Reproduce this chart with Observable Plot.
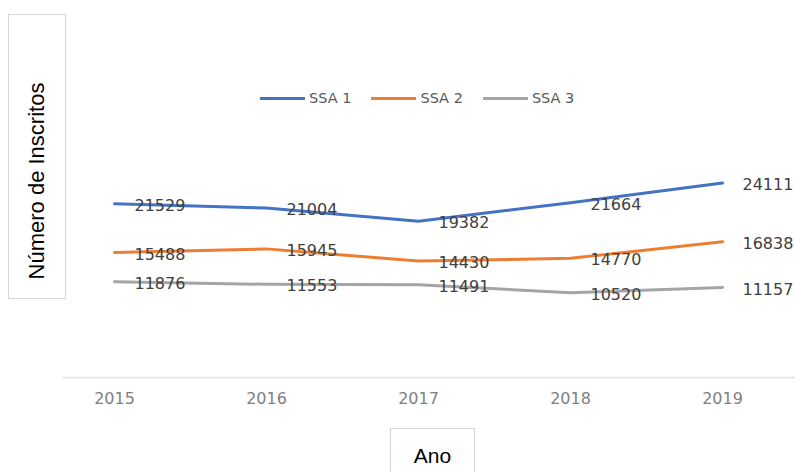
<!DOCTYPE html>
<html>
<head>
<meta charset="utf-8">
<script src="https://cdn.jsdelivr.net/npm/d3@7"></script>
<script src="https://cdn.jsdelivr.net/npm/@observablehq/plot@0.6"></script>
<style>
  html, body { margin: 0; padding: 0; background: #fff; }
  #wrap { position: relative; width: 795px; height: 472px; overflow: hidden; }
  #wrap svg { position: absolute; left: 0; top: 0; }
  .box { position: absolute; border: 1.5px solid #d6d6d6; box-sizing: border-box; background: #fff;
         font-family: "Liberation Sans", Arial, sans-serif; color: #000; font-size: 21px; }
  #ylab { left: 8px; top: 14px; width: 58px; height: 285px; font-size: 22px; }
  #ylab span { position: absolute; left: 50%; top: 166px; white-space: nowrap;
               transform: translate(-50%, -50%) rotate(-90deg); }
  #xlab { left: 390px; top: 428px; width: 85px; height: 60px; }
  #xlab span { position: absolute; left: 50%; top: 27px; transform: translate(-50%, -50%); }
  #legend { position: absolute; left: 260px; top: 89px; height: 18px; display: flex; align-items: center;
            font-family: "DejaVu Sans", sans-serif; font-size: 14.5px; color: #595959; }
  .item { display: flex; align-items: center; margin-right: 20px; }
  .swatch { width: 45px; height: 3px; margin-right: 4px; }
</style>
</head>
<body>
<div id="wrap"></div>
<script>
const years = ["2015", "2016", "2017", "2018", "2019"];
const seriesNames = ["SSA 1", "SSA 2", "SSA 3"];
const ssa1 = [21529, 21004, 19382, 21664, 24111];
const ssa2 = [15488, 15945, 14430, 14770, 16838];
const ssa3 = [11876, 11553, 11491, 10520, 11157];
const colors = ["#4472C4", "#ED7D31", "#A5A5A5"];
const yLabel = "Número de Inscritos";
const xLabel = "Ano";

const seriesValues = [ssa1, ssa2, ssa3];
const rows = [];
seriesNames.forEach((s, i) => {
  years.forEach((y, j) => rows.push({series: s, year: y, value: seriesValues[i][j]}));
});

const chart = Plot.plot({
  width: 795,
  height: 472,
  marginLeft: 113,
  marginRight: 72.5,
  marginTop: 135,
  marginBottom: 95,
  style: {fontFamily: "DejaVu Sans, sans-serif", background: "white"},
  x: {type: "point", domain: years, padding: 0},
  y: {domain: [0, 30000], axis: null},
  color: {domain: seriesNames, range: colors},
  marks: [
    Plot.ruleY([0], {stroke: "#e2e2e2", strokeWidth: 1.5, insetLeft: -51, insetRight: -73}),
    Plot.axisX({tickSize: 0, tickPadding: 15.5, fontSize: 16, color: "#7f7f7f", label: null}),
    Plot.line(rows, {x: "year", y: "value", z: "series", stroke: "series", strokeWidth: 3,
                     strokeLinejoin: "round", strokeLinecap: "round"}),
    Plot.text(rows, {x: "year", y: "value", text: d => String(d.value), textAnchor: "start",
                     dx: 20, dy: 2, fontSize: 16, fill: "#404040"})
  ]
});

const wrap = document.getElementById("wrap");
wrap.appendChild(chart);

const yl = document.createElement("div");
yl.className = "box"; yl.id = "ylab";
yl.innerHTML = "<span></span>"; yl.firstChild.textContent = yLabel;
wrap.appendChild(yl);

const xl = document.createElement("div");
xl.className = "box"; xl.id = "xlab";
xl.innerHTML = "<span></span>"; xl.firstChild.textContent = xLabel;
wrap.appendChild(xl);

const lg = document.createElement("div");
lg.id = "legend";
seriesNames.forEach((s, i) => {
  const it = document.createElement("div");
  it.className = "item";
  const sw = document.createElement("div");
  sw.className = "swatch"; sw.style.background = colors[i];
  const t = document.createElement("span");
  t.textContent = s;
  it.appendChild(sw); it.appendChild(t);
  lg.appendChild(it);
});
wrap.appendChild(lg);
</script>
</body>
</html>
